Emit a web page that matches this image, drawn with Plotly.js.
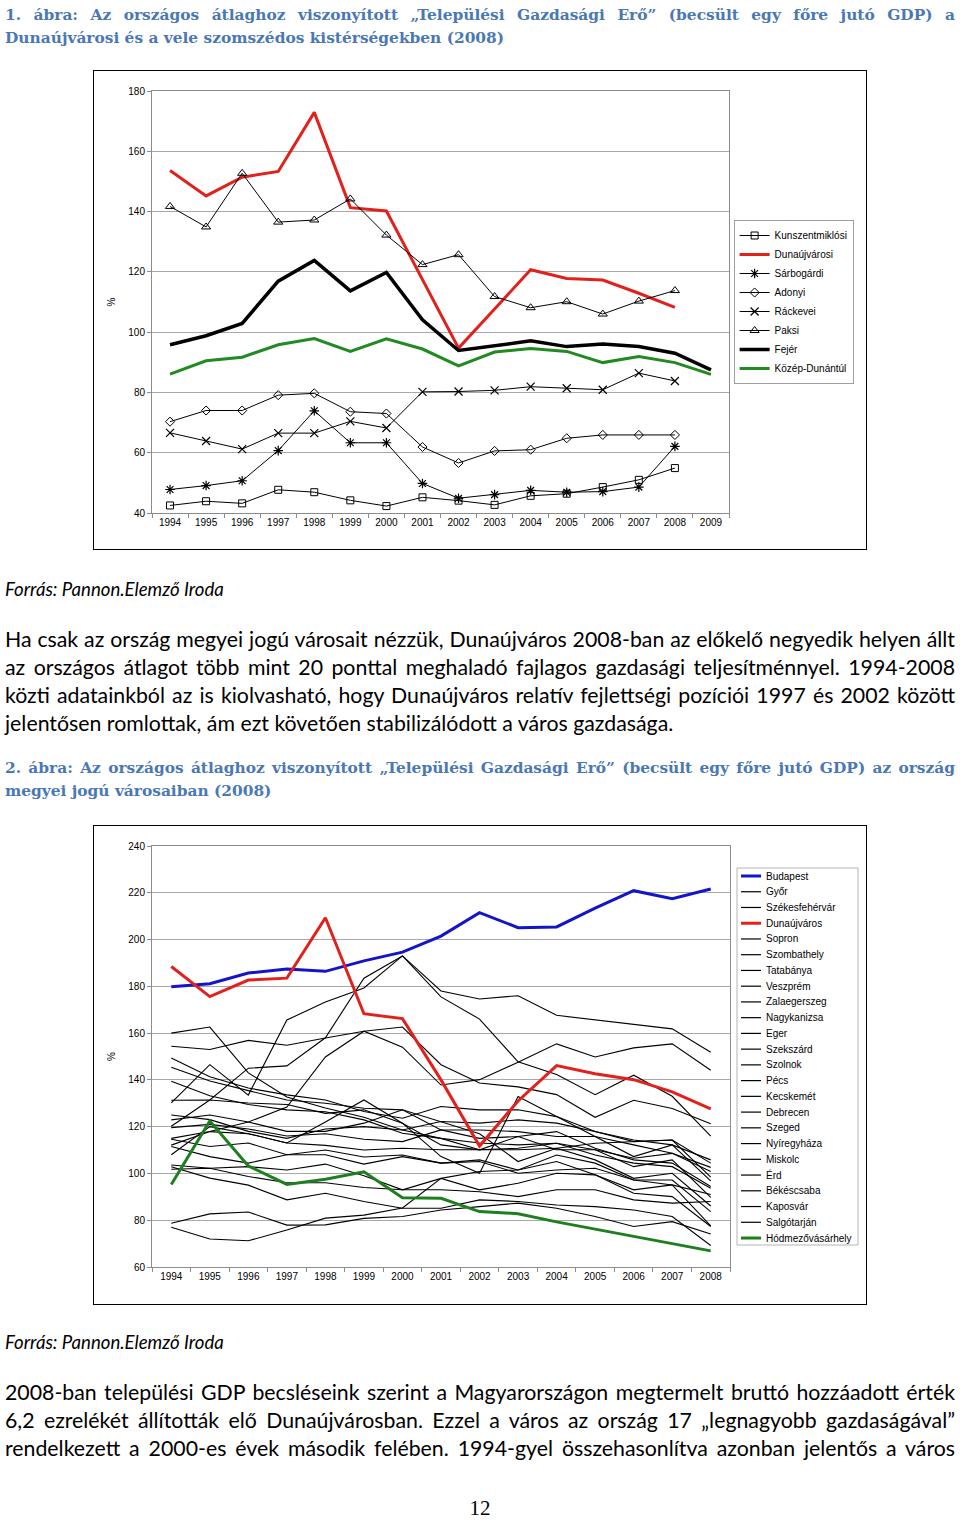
<!DOCTYPE html>
<html><head><meta charset="utf-8">
<script src="https://cdn.plot.ly/plotly-3.0.1.min.js"></script>
<style>
body{margin:0;width:960px;height:1520px;position:relative;background:#fff;overflow:hidden}
.t{position:absolute;left:5px;width:950px;white-space:nowrap}
.j{text-align:justify;text-align-last:justify}
.ttl{font-family:"DejaVu Serif",serif;font-weight:bold;font-size:15.4px;line-height:23px;color:#4a78b5}
.src{font-family:Lato,sans-serif;font-style:italic;font-size:18.6px;line-height:22px;color:#000}
.par{font-family:Lato,sans-serif;font-size:21.3px;line-height:28px;color:#000}
.box{position:absolute;left:93px;width:774px;height:480px;box-sizing:border-box;border:1px solid #000;background:#fff}
.pg{position:absolute;left:0;width:960px;text-align:center;font-family:"Liberation Serif",serif;font-size:21px;line-height:24px}
</style></head>
<body>
<div class="t j ttl" style="top:4px">1. ábra: Az országos átlaghoz viszonyított „Települési Gazdasági Erő” (becsült egy főre jutó GDP) a</div>
<div class="t ttl" style="top:27px">Dunaújvárosi és a vele szomszédos kistérségekben (2008)</div>
<div class="box" style="top:70px"><div id="c1"></div></div>
<div class="t src" style="top:578px">Forrás: Pannon.Elemző Iroda</div>
<div class="t j par" style="top:625px">Ha csak az ország megyei jogú városait nézzük, Dunaújváros 2008-ban az előkelő negyedik helyen állt</div>
<div class="t j par" style="top:653px">az országos átlagot több mint 20 ponttal meghaladó fajlagos gazdasági teljesítménnyel. 1994-2008</div>
<div class="t j par" style="top:681px">közti adatainkból az is kiolvasható, hogy Dunaújváros relatív fejlettségi pozíciói 1997 és 2002 között</div>
<div class="t par" style="top:709px">jelentősen romlottak, ám ezt követően stabilizálódott a város gazdasága.</div>
<div class="t j ttl" style="top:757px">2. ábra: Az országos átlaghoz viszonyított „Települési Gazdasági Erő” (becsült egy főre jutó GDP) az ország</div>
<div class="t ttl" style="top:780px">megyei jogú városaiban (2008)</div>
<div class="box" style="top:825px"><div id="c2"></div></div>
<div class="t src" style="top:1331px">Forrás: Pannon.Elemző Iroda</div>
<div class="t j par" style="top:1378px">2008-ban települési GDP becsléseink szerint a Magyarországon megtermelt bruttó hozzáadott érték</div>
<div class="t j par" style="top:1406px">6,2 ezrelékét állították elő Dunaújvárosban. Ezzel a város az ország 17 „legnagyobb gazdaságával”</div>
<div class="t j par" style="top:1434px">rendelkezett a 2000-es évek második felében. 1994-gyel összehasonlítva azonban jelentős a város</div>
<div class="pg" style="top:1496px">12</div>
<script>
// ---------- Chart 1 data ----------
const years1 = ['1994','1995','1996','1997','1998','1999','2000','2001','2002','2003','2004','2005','2006','2007','2008','2009'];
const kunszentmiklosi = [42.5,43.9,43.2,47.7,46.9,44.2,42.3,45.2,44.1,42.7,45.7,46.4,48.6,51.0,54.9];
const dunaujvarosi = [153.6,145.2,151.4,153.3,172.9,141.3,140.2,117.5,94.7,107.7,120.7,117.8,117.3,112.9,108.2];
const sarbogardi = [47.8,49.1,50.7,60.7,73.9,63.3,63.3,49.8,44.9,46.1,47.5,46.9,47.1,48.6,62.1];
const adonyi = [70.3,74.0,74.0,79.1,79.7,73.6,73.0,61.9,56.6,60.6,61.0,64.8,65.9,65.9,65.9];
const rackevei = [66.6,63.9,61.2,66.5,66.5,70.4,68.2,80.2,80.3,80.7,81.9,81.4,80.9,86.4,83.8];
const paksi = [141.7,134.9,152.7,136.5,137.2,144.2,132.2,122.4,125.7,111.8,108.1,110.1,106.0,110.3,113.8];
const fejer = [95.8,98.8,102.9,116.9,123.8,113.7,119.8,104.1,93.9,95.5,97.1,95.2,96.1,95.2,93.0,87.5];
const kozepDunantul = [86.1,90.5,91.7,95.8,97.9,93.6,97.8,94.4,88.8,93.4,94.6,93.6,89.9,91.9,89.9,86.0];
const names1 = ['Kunszentmiklósi','Dunaújvárosi','Sárbogárdi','Adonyi','Ráckevei','Paksi','Fejér','Közép-Dunántúl'];
const values1 = [kunszentmiklosi,dunaujvarosi,sarbogardi,adonyi,rackevei,paksi,fejer,kozepDunantul];
const yTicks1 = [40,60,80,100,120,140,160,180];

// ---------- Chart 2 data ----------
const years2 = ['1994','1995','1996','1997','1998','1999','2000','2001','2002','2003','2004','2005','2006','2007','2008'];
const budapest = [179.8,181.1,185.7,187.4,186.4,190.9,194.6,201.5,211.5,205.1,205.4,213.4,220.9,217.5,221.6];
const gyor = [130.2,146.5,133.5,165.6,173.3,179.3,193,178,174.6,176,167.6,165.6,163.9,161.8,151.8];
const szekesfehervar = [120.2,131.4,145,146,158,183.5,193,175.5,166,147.7,142.3,133.7,142,133,116];
const dunaujvaros = [188.5,175.6,182.7,183.5,209.3,168.3,166.2,140,111.7,131,146.1,142.6,140.1,134.9,127.6];
const sopron = [160,162.6,143,132.7,128,124,118.6,122.2,121.5,122.9,121.5,117.9,114.3,112.2,105.8];
const szombathely = [154.4,153,156.9,154.8,157.9,160.8,162.6,146.5,138.7,137,133.7,124,131.3,127.8,121.2];
const tatabanya = [139.4,133.2,129.5,127.2,126.4,122.9,117.2,115,110.1,110.8,112.9,110.1,106.5,108.6,100.8];
const veszprem = [112.1,117.9,122,128.4,149.8,160.8,154,137.8,140.1,147.5,155.4,149.8,153.7,155.4,144.1];
const zalaegerszeg = [149.4,141.3,136.5,133.6,131.4,126.5,123.6,128.6,127.2,127.2,124.3,117.9,113.6,114.3,104.4];
const nagykanizsa = [145.4,139.5,135.4,131.4,130,127.9,127.2,118.6,118.6,117.9,115.8,115.8,112.2,108.6,102.6];
const eger = [131.3,131.4,130.1,129.5,125.7,127.2,121.5,112.2,110.1,115.8,117.9,110.8,105.8,104.4,94.4];
const szekszard = [122.9,125,122,118,118,121.5,127.2,122.2,117,105.1,110.8,112.9,113.6,114.3,98.4];
const szolnok = [108,120,117,113,122,131.4,121.5,107.2,100.1,132.9,124.3,115.8,107.2,112.2,96.8];
const pecs = [125,123,118,115,119,120,118.6,115,113,112.2,112.9,107.9,104.4,102.9,93.7];
const kecskemet = [119.6,121,119,116,117,114.6,113.6,118.6,115,115.8,110.1,110.1,102.9,105.8,89.8];
const debrecen = [115,117.9,117,113,112,110,110.8,110.1,110.1,110.1,110.8,105.8,97.9,100.1,86.1];
const szeged = [114.6,111.5,113,108,110,107,107.9,104.4,105.8,101.5,107.9,104.4,97.2,97.2,83.7];
const nyiregyhaza = [111.5,107.2,104.4,108,108,104,107.2,104.4,105.1,100.1,101.5,102.2,97.2,95.1,77.6];
const miskolc = [103.6,102.2,102.9,101.5,104,99,93,97.9,100.8,101.5,105.1,99.4,91.5,90.1,77.3];
const erd = [77,72,71.2,75.8,80.9,82.2,85.2,97.9,93,95.8,100.1,99.4,93,95.1,91];
const bekescsaba = [101.8,102.2,98.7,96,96,94,93,93,92.2,90.1,93,93,88.7,87.3,88];
const kaposvar = [102.9,98,95,88.7,91.5,88,85.1,85.1,88.7,88,86.5,85.8,84.4,81.6,69.2];
const salgotarjan = [78.7,82.7,83.5,77.9,78,80.8,81.6,84.4,85.8,87.3,85.1,81.6,77.3,79.4,74.1];
const hodmezovasarhely = [95.3,122.4,103.2,95.3,97.5,100.7,89.6,89.4,83.7,82.8,79.3,76.1,73.0,70.0,66.9];
const names2 = ['Budapest','Győr','Székesfehérvár','Dunaújváros','Sopron','Szombathely','Tatabánya','Veszprém','Zalaegerszeg','Nagykanizsa','Eger','Szekszárd','Szolnok','Pécs','Kecskemét','Debrecen','Szeged','Nyíregyháza','Miskolc','Érd','Békéscsaba','Kaposvár','Salgótarján','Hódmezővásárhely'];
const values2 = [budapest,gyor,szekesfehervar,dunaujvaros,sopron,szombathely,tatabanya,veszprem,zalaegerszeg,nagykanizsa,eger,szekszard,szolnok,pecs,kecskemet,debrecen,szeged,nyiregyhaza,miskolc,erd,bekescsaba,kaposvar,salgotarjan,hodmezovasarhely];
const yTicks2 = [60,80,100,120,140,160,180,200,220,240];

// ---------- styles ----------
const FONT = {family:'Liberation Sans, Arial, sans-serif', size:10, color:'#000'};
const RED = '#e2201c', GREEN1 = '#218a21', GREEN2 = '#1e7f1e', BLUE = '#1414c8';
const style1 = {
  'Kunszentmiklósi': {line:{color:'#000',width:1}, marker:{symbol:'square-open',size:7,color:'#000',line:{width:1}}},
  'Dunaújvárosi': {line:{color:RED,width:3}, marker:null},
  'Sárbogárdi': {line:{color:'#000',width:1}, marker:{symbol:'asterisk-open',size:8,color:'#000',line:{width:1.2,color:'#000'}}},
  'Adonyi': {line:{color:'#000',width:1}, marker:{symbol:'diamond-open',size:7,color:'#000',line:{width:1}}},
  'Ráckevei': {line:{color:'#000',width:1}, marker:{symbol:'x-thin-open',size:8,color:'#000',line:{width:1.2,color:'#000'}}},
  'Paksi': {line:{color:'#000',width:1}, marker:{symbol:'triangle-up-open',size:8,color:'#000',line:{width:1}}},
  'Fejér': {line:{color:'#000',width:3.5}, marker:null},
  'Közép-Dunántúl': {line:{color:GREEN1,width:3}, marker:null}
};
function axisBase(){
  return {showline:true, linecolor:'#8c8c8c', linewidth:1, mirror:true, ticks:'outside', ticklen:4,
          tickcolor:'#8c8c8c', zeroline:false, tickfont:FONT};
}

// ---------- Chart 1 ----------
const traces1 = names1.map((n,i)=>{
  const s = style1[n];
  const t = {type:'scatter', x:years1.slice(0,values1[i].length), y:values1[i], name:n,
             mode: s.marker ? 'lines+markers' : 'lines', line:s.line, hoverinfo:'none'};
  if (s.marker) t.marker = s.marker;
  return t;
});
const layout1 = {
  width:772, height:478, margin:{l:58,r:125,t:20,b:36},
  paper_bgcolor:'#fff', plot_bgcolor:'#fff', font:FONT, showlegend:true,
  xaxis:Object.assign(axisBase(), {type:'category', tickson:'boundaries', showgrid:false, categoryorder:'array',
        categoryarray:years1, range:[-0.5, years1.length-0.5], autorange:false}),
  yaxis:Object.assign(axisBase(), {range:[40,180], tickvals:yTicks1, showgrid:true, gridcolor:'#a8a8a8', gridwidth:1,
        title:{text:'%', font:FONT, standoff:10}}),
  legend:{x:1.008, xanchor:'left', y:0.5, yanchor:'middle', bordercolor:'#a0a0a0', borderwidth:1,
          bgcolor:'#fff', font:{family:FONT.family,size:10,color:'#000'}, itemwidth:30, tracegroupgap:0}
};
Plotly.newPlot('c1', traces1, layout1, {displayModeBar:false, staticPlot:true});

// ---------- Chart 2 ----------
function color2(n){
  if (n==='Budapest') return BLUE;
  if (n==='Dunaújváros') return RED;
  if (n==='Hódmezővásárhely') return GREEN2;
  return '#000';
}
function width2(n){ return color2(n)==='#000' ? 1.1 : 3; }
const drawOrder = names2.map((n,i)=>i).sort((a,b)=>(color2(names2[a])==='#000'?0:1)-(color2(names2[b])==='#000'?0:1));
const traces2 = drawOrder.map(i=>({type:'scatter', mode:'lines', x:years2, y:values2[i], name:names2[i],
  line:{color:color2(names2[i]), width:width2(names2[i])}, showlegend:false, hoverinfo:'none'}));

// custom legend (compact spacing like the original)
const plotW2 = 578, plotH2 = 421, plotL2 = 152, plotB2 = 1267;
const px = x => (x - plotL2)/plotW2;
const py = y => (plotB2 - y)/plotH2;
const legTop = 876, legStep = 15.74;
const shapes2 = [{type:'rect', xref:'paper', yref:'paper', x0:px(737), x1:px(858), y0:py(1245), y1:py(868),
  line:{color:'#b4b4b4', width:1}, fillcolor:'#fff', layer:'above'}];
const annots2 = [];
names2.forEach((n,i)=>{
  const yy = py(legTop + i*legStep);
  shapes2.push({type:'line', xref:'paper', yref:'paper', x0:px(741), x1:px(761), y0:yy, y1:yy,
    line:{color:color2(n), width: color2(n)==='#000'?1.2:3}, layer:'above'});
  annots2.push({xref:'paper', yref:'paper', x:px(764), y:yy, xanchor:'left', yanchor:'middle', text:n,
    showarrow:false, font:{family:FONT.family,size:10,color:'#000'}});
});
const layout2 = {
  width:772, height:478, margin:{l:58,r:136,t:20,b:37},
  paper_bgcolor:'#fff', plot_bgcolor:'#fff', font:FONT, showlegend:false,
  xaxis:Object.assign(axisBase(), {type:'category', tickson:'boundaries', showgrid:false, categoryorder:'array',
        categoryarray:years2, range:[-0.5, years2.length-0.5], autorange:false}),
  yaxis:Object.assign(axisBase(), {range:[60,240], tickvals:yTicks2, showgrid:true, gridcolor:'#a8a8a8', gridwidth:1,
        title:{text:'%', font:FONT, standoff:10}}),
  shapes:shapes2, annotations:annots2
};
Plotly.newPlot('c2', traces2, layout2, {displayModeBar:false, staticPlot:true});
</script>
</body></html>
